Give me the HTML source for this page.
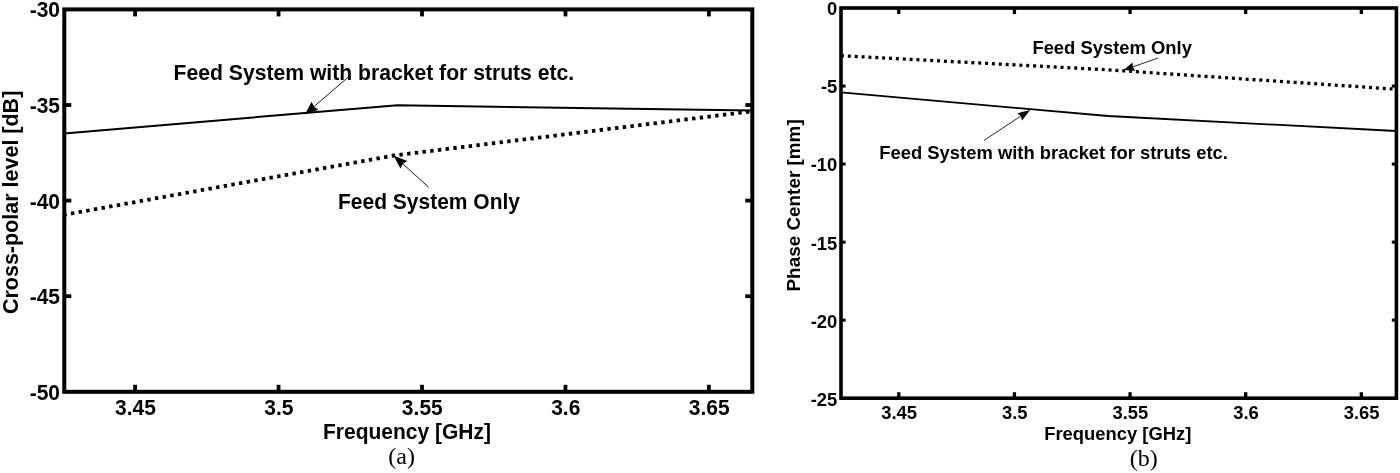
<!DOCTYPE html>
<html lang="en">
<head>
<meta charset="utf-8">
<title>Cross-polar level and phase center versus frequency</title>
<style>
html,body{margin:0;padding:0;background:#fff;}
body{width:1400px;height:473px;overflow:hidden;}
svg{display:block;}
</style>
</head>
<body>
<svg width="1400" height="473" viewBox="0 0 1400 473">
<rect x="0" y="0" width="1400" height="473" fill="#fff"/>
<g stroke="#000" fill="none">
<polyline points="64.3,133.4 397.5,105.2 752.3,110.6" stroke-width="2"/>
<polyline points="64.3,214.8 394,155.5 750.3,111.5" stroke-width="3.8" stroke-dasharray="3.4 4.36" stroke-dashoffset="1"/>
<line x1="135.1" y1="391.8" x2="135.1" y2="384.8" stroke-width="3.8"/>
<line x1="135.1" y1="9.4" x2="135.1" y2="16.4" stroke-width="3.8"/>
<line x1="278.55" y1="391.8" x2="278.55" y2="384.8" stroke-width="3.8"/>
<line x1="278.55" y1="9.4" x2="278.55" y2="16.4" stroke-width="3.8"/>
<line x1="422" y1="391.8" x2="422" y2="384.8" stroke-width="3.8"/>
<line x1="422" y1="9.4" x2="422" y2="16.4" stroke-width="3.8"/>
<line x1="565.45" y1="391.8" x2="565.45" y2="384.8" stroke-width="3.8"/>
<line x1="565.45" y1="9.4" x2="565.45" y2="16.4" stroke-width="3.8"/>
<line x1="708.9" y1="391.8" x2="708.9" y2="384.8" stroke-width="3.8"/>
<line x1="708.9" y1="9.4" x2="708.9" y2="16.4" stroke-width="3.8"/>
<line x1="64.3" y1="105" x2="71.3" y2="105" stroke-width="3.8"/>
<line x1="752.3" y1="105" x2="745.3" y2="105" stroke-width="3.8"/>
<line x1="64.3" y1="200.6" x2="71.3" y2="200.6" stroke-width="3.8"/>
<line x1="752.3" y1="200.6" x2="745.3" y2="200.6" stroke-width="3.8"/>
<line x1="64.3" y1="296.2" x2="71.3" y2="296.2" stroke-width="3.8"/>
<line x1="752.3" y1="296.2" x2="745.3" y2="296.2" stroke-width="3.8"/>
<rect x="64.3" y="9.4" width="688" height="382.4" fill="none" stroke-width="4"/>
<line x1="348.9" y1="76.5" x2="313.99" y2="106.64" stroke-width="0.9"/>
<polygon stroke="none" fill="#000" points="305,114.4 311.56,101.8 313.99,106.64 318.42,109.75"/>
<line x1="428.6" y1="187.2" x2="402.84" y2="163.86" stroke-width="0.9"/>
<polygon stroke="none" fill="#000" points="393.5,155.4 407.3,161.02 402.84,163.86 400.45,168.58"/>
</g>
<g font-family="'Liberation Sans', Arial, Helvetica, sans-serif" font-weight="bold" font-size="21px" fill="#000">
<text transform="translate(135.4 415.1) scale(1 1.06)" text-anchor="middle">3.45</text>
<text transform="translate(278.85 415.1) scale(1 1.06)" text-anchor="middle">3.5</text>
<text transform="translate(422.3 415.1) scale(1 1.06)" text-anchor="middle">3.55</text>
<text transform="translate(565.75 415.1) scale(1 1.06)" text-anchor="middle">3.6</text>
<text transform="translate(709.2 415.1) scale(1 1.06)" text-anchor="middle">3.65</text>
<text transform="translate(60 17.3) scale(1 1.06)" text-anchor="end">-30</text>
<text transform="translate(60 112.9) scale(1 1.06)" text-anchor="end">-35</text>
<text transform="translate(60 208.5) scale(1 1.06)" text-anchor="end">-40</text>
<text transform="translate(60 304.1) scale(1 1.06)" text-anchor="end">-45</text>
<text transform="translate(60 399.7) scale(1 1.06)" text-anchor="end">-50</text>
<text transform="translate(407 439.3) scale(1 1.06)" text-anchor="middle">Frequency [GHz]</text>
<text transform="translate(17.7 202.4) rotate(-90)" text-anchor="middle" font-size="21.5px">Cross-polar level [dB]</text>
<text transform="translate(173.6 79.5) scale(1 1.06)" font-size="21.15px">Feed System with bracket for struts etc.</text>
<text transform="translate(338 208.5) scale(1 1.06)">Feed System Only</text>
</g>
<g stroke="#000" fill="none">
<polyline points="841.0,92.4 1108,116 1396.4,131" stroke-width="1.8"/>
<polyline points="841.0,55.7 1108,69.8 1394.4,89.1" stroke-width="3.3" stroke-dasharray="3 3.87"/>
<line x1="898.8" y1="398.2" x2="898.8" y2="392.2" stroke-width="3.3"/>
<line x1="898.8" y1="8" x2="898.8" y2="14" stroke-width="3.3"/>
<line x1="1014.43" y1="398.2" x2="1014.43" y2="392.2" stroke-width="3.3"/>
<line x1="1014.43" y1="8" x2="1014.43" y2="14" stroke-width="3.3"/>
<line x1="1130.06" y1="398.2" x2="1130.06" y2="392.2" stroke-width="3.3"/>
<line x1="1130.06" y1="8" x2="1130.06" y2="14" stroke-width="3.3"/>
<line x1="1245.69" y1="398.2" x2="1245.69" y2="392.2" stroke-width="3.3"/>
<line x1="1245.69" y1="8" x2="1245.69" y2="14" stroke-width="3.3"/>
<line x1="1361.32" y1="398.2" x2="1361.32" y2="392.2" stroke-width="3.3"/>
<line x1="1361.32" y1="8" x2="1361.32" y2="14" stroke-width="3.3"/>
<line x1="841" y1="86.04" x2="845.6" y2="86.04" stroke-width="3"/>
<line x1="1396.4" y1="86.04" x2="1391.8" y2="86.04" stroke-width="3"/>
<line x1="841" y1="164.08" x2="845.6" y2="164.08" stroke-width="3"/>
<line x1="1396.4" y1="164.08" x2="1391.8" y2="164.08" stroke-width="3"/>
<line x1="841" y1="242.12" x2="845.6" y2="242.12" stroke-width="3"/>
<line x1="1396.4" y1="242.12" x2="1391.8" y2="242.12" stroke-width="3"/>
<line x1="841" y1="320.16" x2="845.6" y2="320.16" stroke-width="3"/>
<line x1="1396.4" y1="320.16" x2="1391.8" y2="320.16" stroke-width="3"/>
<rect x="841" y="8" width="555.4" height="390.2" fill="none" stroke-width="3.6"/>
<line x1="984.1" y1="140.4" x2="1020.72" y2="116.12" stroke-width="0.85"/>
<polygon stroke="none" fill="#000" points="1030.1,109.9 1022.09,120.43 1020.72,116.12 1017.28,113.18"/>
<line x1="1158.2" y1="58" x2="1132.87" y2="66.88" stroke-width="0.85"/>
<polygon stroke="none" fill="#000" points="1123.7,70.1 1132.45,62.42 1132.87,66.88 1135.33,70.63"/>
</g>
<g font-family="'Liberation Sans', Arial, Helvetica, sans-serif" font-weight="bold" font-size="18.4px" fill="#000">
<text transform="translate(899.1 419) scale(1 1.04)" text-anchor="middle">3.45</text>
<text transform="translate(1014.73 419) scale(1 1.04)" text-anchor="middle">3.5</text>
<text transform="translate(1130.36 419) scale(1 1.04)" text-anchor="middle">3.55</text>
<text transform="translate(1245.99 419) scale(1 1.04)" text-anchor="middle">3.6</text>
<text transform="translate(1361.62 419) scale(1 1.04)" text-anchor="middle">3.65</text>
<text transform="translate(837.3 15.4) scale(1 1.04)" text-anchor="end">0</text>
<text transform="translate(837.3 93.44) scale(1 1.04)" text-anchor="end">-5</text>
<text transform="translate(837.3 171.48) scale(1 1.04)" text-anchor="end">-10</text>
<text transform="translate(837.3 249.52) scale(1 1.04)" text-anchor="end">-15</text>
<text transform="translate(837.3 327.56) scale(1 1.04)" text-anchor="end">-20</text>
<text transform="translate(837.3 405.6) scale(1 1.04)" text-anchor="end">-25</text>
<text transform="translate(1117.8 439.9) scale(1 1.04)" text-anchor="middle">Frequency [GHz]</text>
<text transform="translate(799.7 205.4) rotate(-90)" text-anchor="middle" font-size="18.9px">Phase Center [mm]</text>
<text transform="translate(879.3 159.1) scale(1 1.04)">Feed System with bracket for struts etc.</text>
<text transform="translate(1032.4 54.4) scale(1 1.04)">Feed System Only</text>
</g>
<g font-family="'Liberation Serif', 'Times New Roman', Times, serif" font-size="24px" fill="#000">
<text transform="translate(401.6 464.3)" text-anchor="middle">(a)</text>
<text transform="translate(1143.8 466.3)" text-anchor="middle">(b)</text>
</g>
</svg>
</body>
</html>
